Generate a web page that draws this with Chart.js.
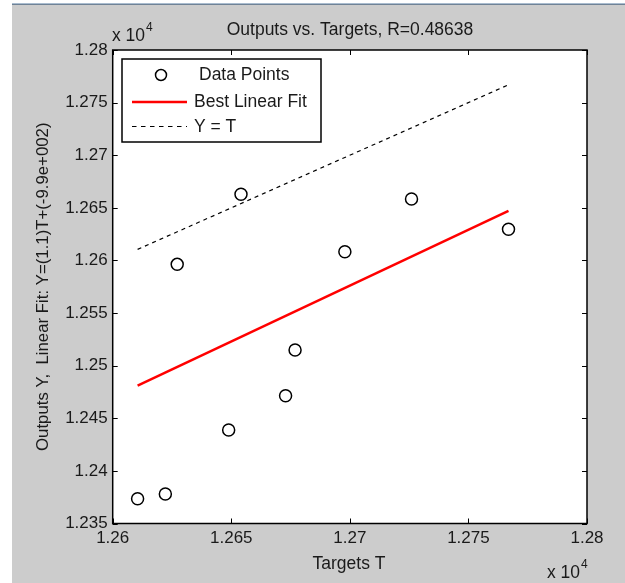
<!DOCTYPE html>
<html lang="en">
<head>
  <meta charset="UTF-8">
  <title>Outputs vs. Targets</title>
  <style>
    html, body { margin: 0; padding: 0; background: #fff; }
    .chart-container { width: 625px; height: 583px; }
  </style>
</head>
<body>
  <div class="chart-container">
    <canvas id="myChart" width="625" height="583"></canvas>
  </div>

  <script src="https://cdn.jsdelivr.net/npm/chart.js"></script>
  <script>
    // Values (raw units, axes show them x 10^4).
    const targets = [12610.5, 12622.2, 12627.2, 12648.9, 12654.1, 12672.9, 12676.9, 12697.9, 12726.0, 12766.9];
    const outputs = [12373.6, 12378.0, 12596.3, 12438.9, 12662.9, 12471.4, 12514.9, 12608.3, 12658.4, 12629.6];
    // Best linear fit and Y = T, end points at min/max target.
    const fitX = [12610.5, 12766.9];
    const fitY = [12481.0, 12647.0];
    const identityY = [12610.5, 12766.9];
    const xTicks = [12600, 12650, 12700, 12750, 12800];
    const yTicks = [12350, 12400, 12450, 12500, 12550, 12600, 12650, 12700, 12750, 12800];

    const FONT = '"Liberation Sans", Arial, sans-serif';
    const fmt = v => String(Number((v / 10000).toFixed(4)));

    const matlabPlugin = {
      id: 'matlab',
      beforeDraw(chart) {
        const ctx = chart.ctx;
        const a = chart.chartArea;
        ctx.save();
        ctx.fillStyle = '#ffffff';
        ctx.fillRect(0, 0, chart.width, chart.height);
        ctx.fillStyle = '#cccccc';
        ctx.fillRect(12, 5, chart.width - 12, chart.height - 5);
        ctx.fillStyle = '#a9bccf';
        ctx.fillRect(12, 3, chart.width - 12, 1);
        ctx.fillStyle = '#6f8296';
        ctx.fillRect(12, 4, chart.width - 12, 1);
        ctx.fillStyle = '#ffffff';
        ctx.fillRect(a.left, a.top, a.right - a.left, a.bottom - a.top);
        ctx.restore();
      },
      afterDraw(chart) {
        const ctx = chart.ctx;
        const a = chart.chartArea;
        const xs = chart.scales.x, ys = chart.scales.y;
        ctx.save();
        // box and inward ticks
        ctx.strokeStyle = '#000';
        ctx.lineWidth = 1.5;
        ctx.strokeRect(a.left, a.top, a.right - a.left, a.bottom - a.top);
        ctx.lineWidth = 1;
        ctx.beginPath();
        xTicks.forEach(v => {
          const px = Math.round(xs.getPixelForValue(v)) + 0.5;
          ctx.moveTo(px, a.bottom); ctx.lineTo(px, a.bottom - 5);
          ctx.moveTo(px, a.top); ctx.lineTo(px, a.top + 5);
        });
        yTicks.forEach(v => {
          const py = Math.round(ys.getPixelForValue(v)) + 0.5;
          ctx.moveTo(a.left, py); ctx.lineTo(a.left + 5, py);
          ctx.moveTo(a.right, py); ctx.lineTo(a.right - 5, py);
        });
        ctx.stroke();

        // texts
        ctx.fillStyle = '#1a1a1a';
        ctx.font = '17.5px ' + FONT;
        ctx.textAlign = 'center';
        ctx.textBaseline = 'middle';
        ctx.fillText('Outputs vs. Targets, R=0.48638', 350, 30);
        ctx.fillText('Targets T', 349, 564);

        ctx.save();
        ctx.translate(43, (a.top + a.bottom) / 2);
        ctx.rotate(-Math.PI / 2);
        ctx.font = '16.8px ' + FONT;
        ctx.fillText('Outputs Y,  Linear Fit: Y=(1.1)T+(-9.9e+002)', 0, 0);
        ctx.restore();

        // x 10^4 multipliers
        ctx.textAlign = 'left';
        ctx.textBaseline = 'alphabetic';
        const exp = (x, y) => {
          ctx.font = '17.5px ' + FONT;
          ctx.fillText('x 10', x, y);
          const w = ctx.measureText('x 10').width;
          ctx.font = '12px ' + FONT;
          ctx.fillText('4', x + w + 1, y - 10);
        };
        exp(112, 41);
        exp(547, 578);

        // legend
        const L = {left: 122, top: 59, right: 321, bottom: 142};
        ctx.fillStyle = '#fff';
        ctx.fillRect(L.left, L.top, L.right - L.left, L.bottom - L.top);
        ctx.strokeStyle = '#000';
        ctx.lineWidth = 1.5;
        ctx.strokeRect(L.left, L.top, L.right - L.left, L.bottom - L.top);
        ctx.beginPath();
        ctx.arc(161, 75, 5.5, 0, Math.PI * 2);
        ctx.stroke();
        ctx.strokeStyle = '#ff0000';
        ctx.lineWidth = 2.5;
        ctx.beginPath();
        ctx.moveTo(132, 102); ctx.lineTo(187, 102);
        ctx.stroke();
        ctx.strokeStyle = '#000';
        ctx.lineWidth = 1.2;
        ctx.setLineDash([4.5, 4.5]);
        ctx.beginPath();
        ctx.moveTo(132, 126.5); ctx.lineTo(187, 126.5);
        ctx.stroke();
        ctx.setLineDash([]);
        ctx.fillStyle = '#1a1a1a';
        ctx.font = '17.5px ' + FONT;
        ctx.textBaseline = 'middle';
        ctx.fillText('Data Points', 199, 75);
        ctx.fillText('Best Linear Fit', 194, 102);
        ctx.fillText('Y = T', 194, 127);
        ctx.restore();
      }
    };

    function drawChart() {
      const myChart = document.querySelector('#myChart');
      const config = {
        type: 'scatter',
        data: {
          datasets: [
            {
              label: 'Y = T',
              type: 'line',
              data: fitX.map((x, i) => ({x, y: identityY[i]})),
              borderColor: '#000',
              borderWidth: 1.2,
              borderDash: [4, 4],
              pointRadius: 0,
              fill: false,
              order: 3
            },
            {
              label: 'Best Linear Fit',
              type: 'line',
              data: fitX.map((x, i) => ({x, y: fitY[i]})),
              borderColor: '#ff0000',
              borderWidth: 2.5,
              pointRadius: 0,
              fill: false,
              order: 2
            },
            {
              label: 'Data Points',
              data: targets.map((x, i) => ({x, y: outputs[i]})),
              pointStyle: 'circle',
              pointRadius: 6,
              pointBorderWidth: 1.5,
              borderColor: '#000',
              backgroundColor: 'rgba(0,0,0,0)',
              order: 1
            }
          ]
        },
        options: {
          responsive: false,
          animation: false,
          layout: {padding: {top: 50, right: 38, left: 0, bottom: 0}},
          plugins: {
            legend: {display: false},
            title: {display: false},
            tooltip: {enabled: false}
          },
          scales: {
            x: {
              type: 'linear',
              min: 12600,
              max: 12800,
              afterFit: scale => { scale.height = 59.5; },
              afterBuildTicks: scale => { scale.ticks = xTicks.map(value => ({value})); },
              ticks: {
                color: '#1a1a1a',
                padding: 5,
                maxRotation: 0,
                font: {family: FONT, size: 17},
                callback: fmt
              },
              grid: {display: false, drawTicks: false},
              border: {display: false}
            },
            y: {
              type: 'linear',
              min: 12350,
              max: 12800,
              afterFit: scale => { scale.width = 112.7; },
              afterBuildTicks: scale => { scale.ticks = yTicks.map(value => ({value})); },
              ticks: {
                color: '#1a1a1a',
                padding: 5,
                font: {family: FONT, size: 17},
                callback: fmt
              },
              grid: {display: false, drawTicks: false},
              border: {display: false}
            }
          }
        },
        plugins: [matlabPlugin]
      };
      return new Chart(myChart, config);
    }
    const chart = drawChart();
    window.chart = chart;
  </script>
</body>
</html>
